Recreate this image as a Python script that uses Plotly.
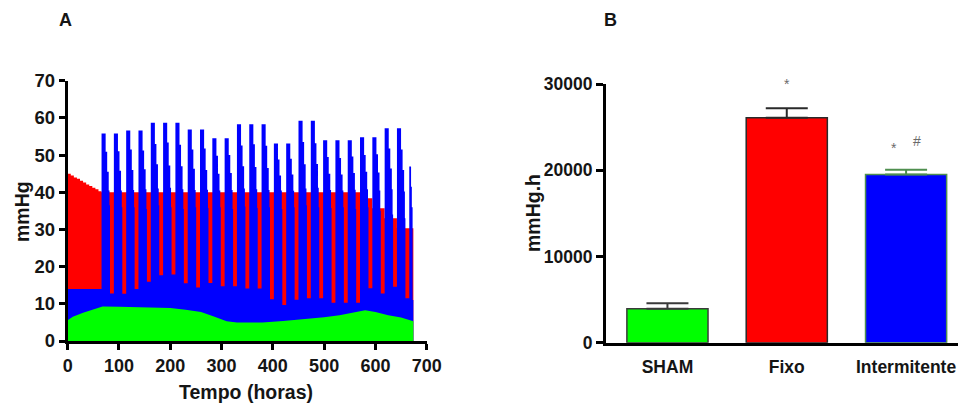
import plotly.graph_objects as go

W, H = 958, 404

# ---------------- Painel A: pressão ao longo do tempo ----------------
# SHAM (verde)
sham_t = [0, 10, 30, 50, 68, 100, 150, 200, 230, 260, 285, 310, 330, 380, 420,
          460, 500, 530, 560, 580, 600, 625, 650, 674]
sham_v = [5.6, 6.5, 7.6, 8.6, 9.3, 9.2, 9.1, 8.9, 8.4, 7.8, 6.6, 5.3, 5.0, 5.0,
          5.4, 5.8, 6.4, 6.9, 7.7, 8.3, 7.8, 6.9, 6.3, 5.3]

# Fixo (vermelho)
fixo_t = [0, 6, 12, 18, 24, 30, 36, 42, 48, 54, 60, 66, 570, 594, 618, 642, 674]
fixo_v = [45.0, 44.5, 44.0, 43.6, 43.1, 42.6, 42.1, 41.7, 41.2, 40.8, 40.3, 40.0,
          38.4, 35.7, 33.0, 30.3, 30.3]

# Intermitente (azul): nível basal antes dos ciclos e ciclos diários de 24 h
intermitente_basal = 14.0
inicio_ciclos_h = 66
periodo_h = 24
ciclo_offsets_h = [0, 8, 11, 14, 15.5, 16.5]
# cada linha: pico, degraus de queda, trough
intermitente_ciclos = [
    [55.8, 50.9, 45.5, 40.5, 36.5, 12.8],
    [55.8, 51.0, 45.8, 40.5, 36.0, 12.7],
    [56.6, 51.5, 46.0, 40.6, 36.0, 14.0],
    [56.6, 51.2, 46.2, 40.8, 35.5, 15.9],
    [58.7, 53.0, 47.5, 41.0, 36.5, 17.7],
    [58.7, 53.4, 47.2, 41.2, 36.0, 17.9],
    [58.7, 52.8, 47.0, 40.8, 35.5, 15.5],
    [56.9, 51.5, 46.3, 40.6, 36.0, 14.4],
    [56.9, 51.8, 46.0, 40.7, 35.8, 15.6],
    [54.5, 49.8, 45.0, 40.5, 36.0, 14.7],
    [54.5, 50.0, 45.2, 40.6, 35.5, 14.7],
    [58.3, 52.6, 47.0, 41.0, 36.2, 14.1],
    [58.3, 52.9, 46.8, 40.8, 35.8, 14.1],
    [58.3, 52.5, 46.5, 40.6, 36.0, 11.2],
    [53.1, 48.8, 44.5, 40.5, 35.5, 9.7],
    [53.1, 49.0, 44.8, 40.4, 36.0, 11.1],
    [59.2, 53.5, 47.5, 41.0, 36.5, 11.5],
    [59.2, 53.2, 47.6, 41.2, 36.0, 11.5],
    [54.0, 49.5, 45.0, 40.6, 35.8, 10.3],
    [54.0, 49.2, 44.8, 40.5, 36.0, 10.3],
    [54.0, 49.6, 45.2, 40.7, 35.5, 10.3],
    [54.8, 50.0, 45.5, 40.8, 36.0, 14.2],
    [54.8, 50.2, 45.3, 40.5, 35.0, 12.8],
    [57.2, 51.8, 46.4, 40.8, 34.0, 14.6],
    [57.2, 51.5, 46.0, 40.2, 33.0, 11.5],
]
intermitente_final_t = [666, 669.5, 671, 672.5, 674]
intermitente_final_v = [46.9, 41.5, 36.0, 11.0, 11.0]

# ---------------- Painel B: área sob a curva ----------------
grupos = ["SHAM", "Fixo", "Intermitente"]
area_media = [3950, 26100, 19500]
area_epm = [620, 1100, 560]

# monta a série intermitente em degraus
int_t = [0]
int_v = [intermitente_basal]
for k, linha in enumerate(intermitente_ciclos):
    t0 = inicio_ciclos_h + periodo_h * k
    for off, v in zip(ciclo_offsets_h, linha):
        int_t.append(t0 + off)
        int_v.append(v)
int_t += intermitente_final_t
int_v += intermitente_final_v

FONT = "Liberation Sans, Arial, sans-serif"
TXT = "#151515"


def px_x(px):
    return px / W


def px_y(py):
    return 1 - py / H


def tick_font(size):
    return dict(family=FONT, size=size, color=TXT, weight="bold")


fig = go.Figure()

fig.add_trace(go.Scatter(x=fixo_t, y=fixo_v, mode="lines", fill="tozeroy",
                         line=dict(width=0, shape="hv"), fillcolor="#ff0000",
                         xaxis="x", yaxis="y", hoverinfo="skip"))
fig.add_trace(go.Scatter(x=int_t, y=int_v, mode="lines", fill="tozeroy",
                         line=dict(width=0, shape="hv"), fillcolor="#0000ff",
                         xaxis="x", yaxis="y", hoverinfo="skip"))
fig.add_trace(go.Scatter(x=sham_t, y=sham_v, mode="lines", fill="tozeroy",
                         line=dict(width=0), fillcolor="#00ff00",
                         xaxis="x", yaxis="y", hoverinfo="skip"))

bar_fill = ["#00ff00", "#ff0000", "#0000ff"]
bar_edge = ["#3a3a3a", "#2a2a2a", "#4f8f4f"]
for i, g in enumerate(grupos):
    fig.add_trace(go.Bar(
        x=[g], y=[area_media[i]], width=0.68,
        marker=dict(color=bar_fill[i], line=dict(color=bar_edge[i], width=1.5)),
        error_y=dict(type="data", array=[area_epm[i]], arrayminus=[0],
                     symmetric=False, color=bar_edge[i], thickness=2, width=21),
        xaxis="x2", yaxis="y2", hoverinfo="skip"))

axis_common = dict(showline=True, linewidth=3, linecolor="black", showgrid=False,
                   zeroline=False, ticks="outside", tickwidth=3, tickcolor="black",
                   automargin=False)

fig.update_layout(
    width=W, height=H, autosize=False, margin=dict(l=0, r=0, t=0, b=0, pad=0),
    paper_bgcolor="white", plot_bgcolor="white", showlegend=False,
    barmode="overlay",
    xaxis=dict(domain=[px_x(67.7), px_x(426.7)], range=[0, 700],
               tickvals=[0, 100, 200, 300, 400, 500, 600, 700], ticklen=6,
               tickfont=tick_font(18), anchor="y", **axis_common),
    yaxis=dict(domain=[px_y(341), px_y(80.7)], range=[0, 70],
               tickvals=[0, 10, 20, 30, 40, 50, 60, 70], ticklen=6,
               tickfont=tick_font(18.5), anchor="x", **axis_common),
    xaxis2=dict(domain=[px_x(606), 1.0], range=[-0.515, 2.435],
                type="category", anchor="y2", tickfont=tick_font(17.5),
                **{**axis_common, "ticks": "outside",
                   "tickcolor": "rgba(0,0,0,0)", "ticklen": 6}),
    yaxis2=dict(domain=[px_y(342.7), px_y(84)], range=[0, 30000],
                tickvals=[0, 10000, 20000, 30000], tickformat="d", ticklen=7,
                tickfont=tick_font(17.5), anchor="x2", **axis_common),
)

annotations = []
for letra, xp in [("A", 65), ("B", 610)]:
    annotations.append(dict(xref="paper", yref="paper", x=px_x(xp), y=px_y(20),
                            text=letra, showarrow=False, xanchor="center",
                            yanchor="middle",
                            font=dict(family=FONT, size=18, color=TXT, weight="bold")))

title_font = dict(family=FONT, size=19.5, color=TXT, weight="bold")
annotations += [
    dict(xref="paper", yref="paper", x=px_x(22), y=px_y(212), text="mmHg",
         textangle=-90, showarrow=False, xanchor="center", yanchor="middle",
         font=title_font),
    dict(xref="paper", yref="paper", x=px_x(246), y=px_y(392), text="Tempo (horas)",
         showarrow=False, xanchor="center", yanchor="middle", font=title_font),
    dict(xref="paper", yref="paper", x=px_x(533), y=px_y(213), text="mmHg.h",
         textangle=-90, showarrow=False, xanchor="center", yanchor="middle",
         font=title_font),
]

sig_font = dict(family=FONT, size=14, color="#6a6a6a")
annotations += [
    dict(xref="x2", yref="paper", x="Fixo", y=px_y(84), text="*",
         showarrow=False, xanchor="center", yanchor="middle", font=sig_font),
    dict(xref="paper", yref="paper", x=px_x(894), y=px_y(148), text="*",
         showarrow=False, xanchor="center", yanchor="middle", font=sig_font),
    dict(xref="paper", yref="paper", x=px_x(917), y=px_y(141), text="#",
         showarrow=False, xanchor="center", yanchor="middle", font=sig_font),
]
fig.update_layout(annotations=annotations)

fig.write_html("out.html")
